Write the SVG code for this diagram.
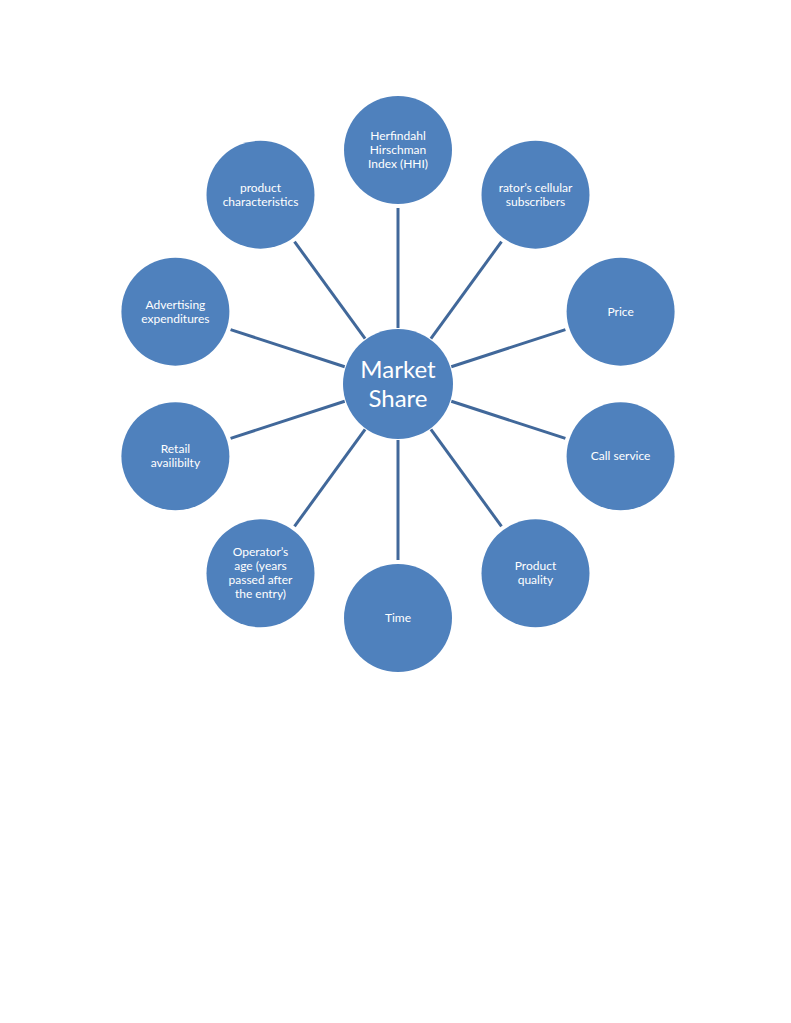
<svg xmlns="http://www.w3.org/2000/svg" width="791" height="1023" viewBox="0 0 791 1023">
<style>
.n{fill:#4F81BD;}
.c line{stroke:#41689A;stroke-width:3;}
text{fill:#FFFFFF;font-family:Lato,"Open Sans","Liberation Sans",sans-serif;text-anchor:middle;}
.t{font-size:12px;}
.m{font-size:24px;}
</style>
<rect width="791" height="1023" fill="#FFFFFF"/>
<g id="connectors" class="c">
<line x1="398" y1="328" x2="398" y2="208"/>
<line x1="430.9" y1="338.7" x2="501.5" y2="241.6"/>
<line x1="451.3" y1="366.7" x2="565.4" y2="329.6"/>
<line x1="451.3" y1="401.3" x2="565.4" y2="438.4"/>
<line x1="430.9" y1="429.3" x2="501.5" y2="526.4"/>
<line x1="398" y1="440" x2="398" y2="560"/>
<line x1="365.1" y1="429.3" x2="294.5" y2="526.4"/>
<line x1="344.7" y1="401.3" x2="230.6" y2="438.4"/>
<line x1="344.7" y1="366.7" x2="230.6" y2="329.6"/>
<line x1="365.1" y1="338.7" x2="294.5" y2="241.6"/>
</g>
<g id="center">
<circle class="n" cx="398" cy="384" r="55"/>
<text class="m" x="398" y="378">Market</text>
<text class="m" x="398" y="407">Share</text>
</g>
<g id="hhi">
<circle class="n" cx="398" cy="150" r="54"/>
<text class="t" x="398" y="140">Herfindahl</text>
<text class="t" x="398" y="154">Hirschman</text>
<text class="t" x="398" y="168">Index (HHI)</text>
</g>
<g id="subscribers">
<circle class="n" cx="535.5" cy="194.7" r="54"/>
<text class="t" x="535.5" y="191.7">rator’s cellular</text>
<text class="t" x="535.5" y="205.7">subscribers</text>
</g>
<g id="price">
<circle class="n" cx="620.6" cy="311.7" r="54"/>
<text class="t" x="620.6" y="315.7">Price</text>
</g>
<g id="callservice">
<circle class="n" cx="620.6" cy="456.3" r="54"/>
<text class="t" x="620.6" y="460.3">Call service</text>
</g>
<g id="quality">
<circle class="n" cx="535.5" cy="573.3" r="54"/>
<text class="t" x="535.5" y="570.3">Product</text>
<text class="t" x="535.5" y="584.3">quality</text>
</g>
<g id="time">
<circle class="n" cx="398" cy="618" r="54"/>
<text class="t" x="398" y="622">Time</text>
</g>
<g id="operatorage">
<circle class="n" cx="260.5" cy="573.3" r="54"/>
<text class="t" x="260.5" y="556.3">Operator’s</text>
<text class="t" x="260.5" y="570.3">age (years</text>
<text class="t" x="260.5" y="584.3">passed after</text>
<text class="t" x="260.5" y="598.3">the entry)</text>
</g>
<g id="retail">
<circle class="n" cx="175.4" cy="456.3" r="54"/>
<text class="t" x="175.4" y="453.3">Retail</text>
<text class="t" x="175.4" y="467.3">availibilty</text>
</g>
<g id="advertising">
<circle class="n" cx="175.4" cy="311.7" r="54"/>
<text class="t" x="175.4" y="308.7">Advertising</text>
<text class="t" x="175.4" y="322.7">expenditures</text>
</g>
<g id="characteristics">
<circle class="n" cx="260.5" cy="194.7" r="54"/>
<text class="t" x="260.5" y="191.7">product</text>
<text class="t" x="260.5" y="205.7">characteristics</text>
</g>
</svg>
